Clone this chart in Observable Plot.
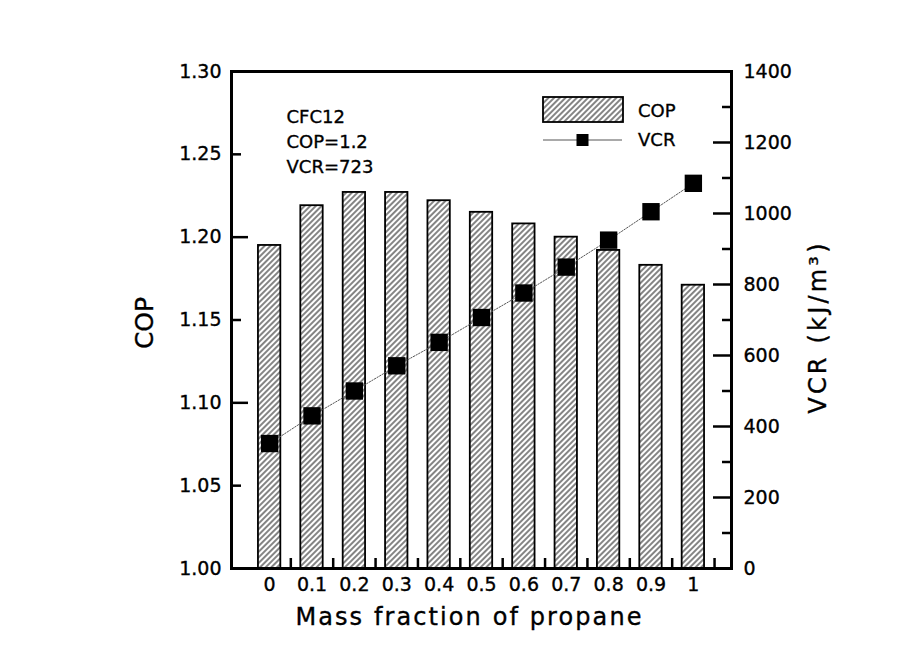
<!DOCTYPE html>
<html>
<head>
<meta charset="utf-8">
<script src="https://cdn.jsdelivr.net/npm/d3@7"></script>
<script src="https://cdn.jsdelivr.net/npm/@observablehq/plot@0.6"></script>
<style>
  body { margin: 0; background: #fff; }
  #chart { position: relative; width: 922px; height: 655px; }
</style>
</head>
<body>
<div id="chart"></div>
<script>
// ---- data ----
const massFraction = [0, 0.1, 0.2, 0.3, 0.4, 0.5, 0.6, 0.7, 0.8, 0.9, 1];
const copValues = [1.195, 1.219, 1.227, 1.227, 1.222, 1.215, 1.208, 1.200, 1.192, 1.183, 1.171];
const vcrValues = [352, 430, 500, 571, 637, 707, 776, 849, 925, 1005, 1085];
const copTicks = [1.00, 1.05, 1.10, 1.15, 1.20, 1.25, 1.30];
const copMajorTicks = [1.00, 1.10, 1.20, 1.30];
const copMinorTicks = [1.05, 1.15, 1.25];
const vcrTicks = [0, 200, 400, 600, 800, 1000, 1200, 1400];
const vcrMinorTicks = [100, 300, 500, 700, 900, 1100, 1300];
const xMinorTicks = [0.05, 0.15, 0.25, 0.35, 0.45, 0.55, 0.65, 0.75, 0.85, 0.95, 1.05];
const notes = ["CFC12", "COP=1.2", "VCR=723"];
const legendLabels = ["COP", "VCR"];
const xTitle = "Mass fraction of propane";
const yTitleLeft = "COP";
const yTitleRight = "VCR (kJ/m³)";

const copDomain = [1.0, 1.3];
const vcrDomain = [0, 1400];
// map the right-axis (VCR) values onto the shared vertical scale
const vcrToCop = v => copDomain[0] + (v - vcrDomain[0]) / (vcrDomain[1] - vcrDomain[0]) * (copDomain[1] - copDomain[0]);

const data = massFraction.map((m, i) => ({m, cop: copValues[i], vcr: vcrValues[i]}));

const W = 922, H = 655, mL = 231, mR = 191, mT = 71, mB = 87;
const frameW = W - mL - mR, frameH = H - mT - mB;
const FONT = "'DejaVu Sans', sans-serif";

const svg = Plot.plot({
  width: W, height: H,
  marginLeft: mL, marginRight: mR, marginTop: mT, marginBottom: mB,
  style: {fontFamily: FONT, fontSize: "18px", color: "#000", background: "#fff"},
  x: {domain: [-0.09, 1.09], axis: null},
  y: {domain: copDomain, axis: null},
  marks: [
    Plot.rectY(data, {
      x1: d => d.m - 0.05, x2: d => d.m + 0.05, insetLeft: 10, insetRight: 10,
      y1: copDomain[0], y2: "cop",
      fill: "url(#hatch)", stroke: "#000", strokeWidth: 1.8
    }),
    Plot.line(data, {x: "m", y: d => vcrToCop(d.vcr), stroke: "#555", strokeWidth: 1, strokeDasharray: "1.5,1.5"}),
    Plot.dot(data, {x: "m", y: d => vcrToCop(d.vcr), symbol: "square", r: 9.8, fill: "#000", stroke: "none"}),
    // inward ticks
    Plot.tickY(copMajorTicks, {y: d => d, insetRight: frameW - 17, stroke: "#000", strokeWidth: 2.5}),
    Plot.tickY(copMinorTicks, {y: d => d, insetRight: frameW - 10, stroke: "#000", strokeWidth: 2.5}),
    Plot.tickY(vcrTicks, {y: d => vcrToCop(d), insetLeft: frameW - 18, stroke: "#000", strokeWidth: 2.5}),
    Plot.tickY(vcrMinorTicks, {y: d => vcrToCop(d), insetLeft: frameW - 9, stroke: "#000", strokeWidth: 2.5}),
    Plot.tickX(xMinorTicks, {x: d => d, insetTop: frameH - 10, stroke: "#000", strokeWidth: 2.5}),
    Plot.frame({stroke: "#000", strokeWidth: 3}),
    // tick labels
    Plot.text(copTicks, {y: d => d, frameAnchor: "left", dx: -10, textAnchor: "end", text: d => d.toFixed(2), fontSize: 19}),
    Plot.text(vcrTicks, {y: d => vcrToCop(d), frameAnchor: "right", dx: 12, textAnchor: "start", text: d => String(d), fontSize: 19}),
    Plot.text(massFraction, {x: d => d, frameAnchor: "bottom", dy: 22, text: d => String(d), fontSize: 19}),
    // annotation
    Plot.text([notes.join("\n")], {frameAnchor: "top-left", dx: 55, dy: 34, lineAnchor: "top", textAnchor: "start", lineHeight: 25 / 18, fontSize: 18}),
    // axis titles
    Plot.text([xTitle], {frameAnchor: "bottom", dx: -12, dy: 56, fontSize: 24, textAnchor: "middle"}),
    Plot.text([yTitleLeft], {frameAnchor: "left", rotate: -90, dx: -87, dy: 3, fontSize: 25, textAnchor: "middle"}),
    Plot.text([yTitleRight], {frameAnchor: "right", rotate: -90, dx: 87, dy: 7, fontSize: 24, textAnchor: "middle"})
  ]
});

const s = d3.select(svg);
const defs = s.insert("defs", ":first-child");
const pat = defs.append("pattern").attr("id", "hatch")
  .attr("patternUnits", "userSpaceOnUse").attr("width", 4).attr("height", 4)
  .attr("patternTransform", "rotate(45)");
pat.append("rect").attr("width", 4).attr("height", 4).attr("fill", "#fff");
pat.append("line").attr("x1", 1).attr("x2", 1).attr("y1", 0).attr("y2", 4)
  .attr("stroke", "#2a2a2a").attr("stroke-width", 1.15);

const byText = t => s.selectAll("text").filter(function () { return this.textContent === t; });
byText(xTitle).attr("letter-spacing", "2.1px");
byText(yTitleRight).attr("letter-spacing", "3.2px");
s.selectAll("text").filter(function () { return notes.includes(this.textContent); }).attr("letter-spacing", "1px");

// legend
const lg = s.append("g").attr("font-family", FONT).attr("font-size", 18).attr("fill", "#000").attr("text-anchor", "start");
lg.append("rect").attr("x", 543).attr("y", 97).attr("width", 80).attr("height", 25)
  .attr("fill", "url(#hatch)").attr("stroke", "#000").attr("stroke-width", 1.8);
lg.append("text").attr("x", 638).attr("y", 117).text(legendLabels[0]);
lg.append("line").attr("x1", 543).attr("x2", 622).attr("y1", 140).attr("y2", 140)
  .attr("stroke", "#555").attr("stroke-width", 1);
lg.append("rect").attr("x", 576.5).attr("y", 134).attr("width", 12).attr("height", 12).attr("fill", "#000");
lg.append("text").attr("x", 638).attr("y", 146).text(legendLabels[1]);

// slightly heavier glyphs, like the scanned original
s.selectAll("text").attr("stroke", "#000").attr("stroke-width", 0.35);

document.getElementById("chart").appendChild(svg);
</script>
</body>
</html>
